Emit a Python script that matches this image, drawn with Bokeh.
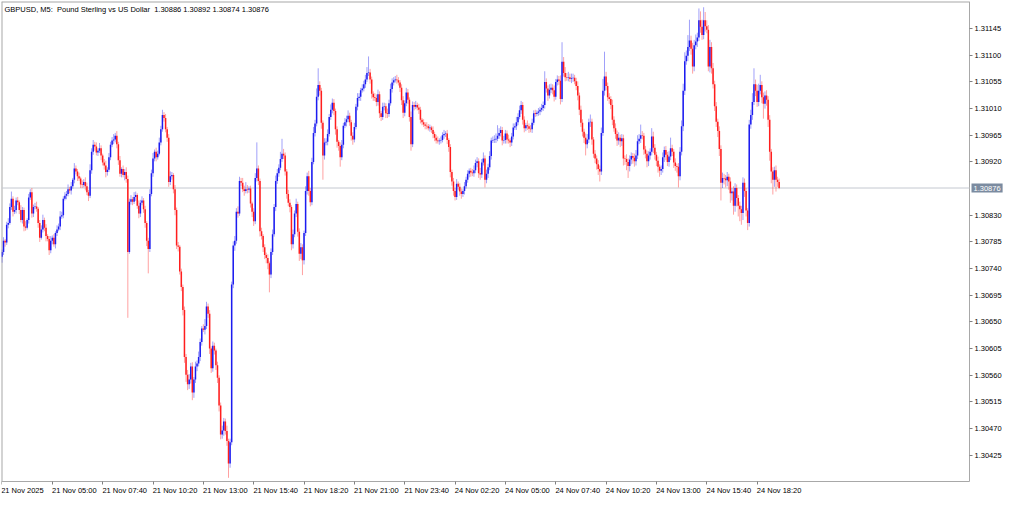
import numpy as np
from bokeh.plotting import figure
from bokeh.models import Range1d, FixedTicker, PrintfTickFormatter, Label
from bokeh.embed import file_html
from bokeh.resources import INLINE

# ---------------- data ----------------
chart_title = "GBPUSD, M5:\u00a0 Pound Sterling vs US Dollar\u00a0 1.30886 1.30892 1.30874 1.30876"
last_price = 1.30876
last_price_text = "1.30876"

# prices are given in points (0.00001) above 1.30000
price_base = 1.30000
point = 0.00001
first_open_points = 760

close_points = [
    768, 787, 784, 814, 817, 844, 858, 836, 839, 855,
    852, 839, 822, 839, 811, 809, 822, 860, 869, 833,
    844, 845, 841, 817, 792, 806, 822, 809, 795, 790,
    771, 787, 792, 781, 800, 806, 811, 828, 830, 858,
    863, 866, 874, 872, 879, 890, 909, 904, 896, 892,
    882, 881, 886, 879, 869, 863, 906, 937, 949, 946,
    936, 939, 943, 931, 919, 914, 903, 907, 928, 949,
    956, 958, 964, 950, 923, 900, 908, 898, 903, 891,
    768, 853, 857, 853, 861, 864, 846, 833, 851, 855,
    840, 817, 787, 773, 866, 901, 926, 937, 928, 934,
    953, 975, 999, 994, 975, 961, 886, 896, 898, 874,
    839, 779, 777, 735, 709, 670, 591, 561, 545, 553,
    575, 531, 553, 575, 580, 591, 616, 639, 637, 643,
    676, 664, 605, 572, 610, 602, 577, 556, 509, 460,
    467, 482, 466, 449, 411, 447, 713, 779, 787, 836,
    833, 888, 885, 874, 871, 874, 873, 875, 850, 836,
    820, 893, 909, 888, 803, 795, 776, 763, 758, 749,
    730, 768, 798, 844, 888, 901, 910, 925, 934, 931,
    904, 866, 851, 844, 781, 798, 833, 849, 802, 765,
    776, 754, 800, 871, 896, 871, 852, 920, 969, 985,
    1030, 1050, 1040, 986, 931, 953, 954, 967, 996, 1008,
    1020, 1006, 975, 954, 947, 928, 949, 981, 987, 992,
    998, 987, 964, 958, 979, 1013, 1028, 1030, 1041, 1044,
    1051, 1059, 1070, 1071, 1059, 1035, 1029, 1028, 1021, 1034,
    1002, 996, 1013, 1014, 1002, 1001, 1019, 1043, 1054, 1058,
    1059, 1058, 1054, 1045, 1024, 1003, 1019, 1037, 1025, 996,
    950, 1016, 1013, 1016, 1012, 1008, 991, 987, 983, 981,
    980, 977, 978, 974, 967, 961, 956, 955, 956, 957,
    965, 967, 968, 957, 945, 903, 887, 871, 861, 883,
    878, 870, 866, 871, 879, 890, 900, 905, 902, 901,
    906, 918, 921, 901, 899, 919, 926, 890, 900, 911,
    930, 956, 957, 958, 959, 964, 969, 974, 956, 957,
    968, 958, 956, 953, 963, 978, 980, 987, 996, 1007,
    1016, 991, 977, 982, 980, 976, 975, 986, 1002, 1001,
    1003, 1005, 1008, 1011, 1016, 1055, 1044, 1032, 1042, 1045,
    1041, 1030, 1055, 1059, 1057, 1026, 1089, 1070, 1063, 1062,
    1063, 1060, 1061, 1062, 1056, 1048, 1032, 1008, 986, 971,
    961, 950, 958, 987, 988, 958, 934, 926, 916, 908,
    904, 969, 1040, 1064, 1048, 1029, 1026, 1016, 991, 977,
    967, 956, 961, 955, 960, 926, 925, 920, 913, 924,
    930, 927, 921, 931, 955, 959, 965, 964, 941, 934,
    921, 931, 937, 963, 944, 932, 922, 912, 905, 908,
    928, 940, 932, 920, 929, 943, 937, 919, 913, 912,
    896, 937, 980, 1040, 1090, 1099, 1114, 1125, 1111, 1081,
    1117, 1123, 1130, 1159, 1148, 1134, 1159, 1149, 1143, 1081,
    1114, 1078, 1051, 1014, 988, 972, 942, 885, 893, 892,
    889, 895, 887, 867, 870, 846, 876, 859, 846, 840,
    834, 885, 871, 838, 817, 983, 999, 1021, 1051, 1040,
    1021, 1040, 1050, 1029, 1018, 1032, 1025, 991, 937, 904,
    890, 906, 890, 886, 876,
]

upper_wick_points = [
    4, 6, 3, 5, 8, 6, 12, 4, 7, 5,
    6, 3, 8, 5, 4, 9, 3, 6, 5, 7,
    4, 6, 8, 3, 5, 7, 9, 4, 6, 3,
    5, 8, 4, 6, 3, 7, 5, 9, 6, 4,
    6, 5, 8, 4, 7, 3, 9, 5, 4, 6,
    3, 7, 5, 8, 6, 4, 10, 6, 8, 5,
    7, 4, 9, 5, 3, 6, 8, 4, 7, 5,
    6, 9, 5, 8, 4, 7, 3, 6, 5, 8,
    6, 5, 7, 4, 8, 6, 3, 9, 5, 7,
    4, 6, 3, 5, 8, 6, 9, 4, 7, 5,
    8, 6, 9, 5, 7, 4, 6, 8, 5, 3,
    7, 4, 6, 3, 5, 4, 6, 5, 8, 9,
    6, 7, 4, 8, 5, 9, 6, 4, 7, 12,
    8, 5, 6, 4, 7, 5, 3, 6, 4, 5,
    8, 6, 5, 9, 4, 6, 5, 7, 8, 6,
    9, 7, 5, 8, 6, 12, 7, 4, 5, 3,
    6, 8, 44, 5, 4, 6, 3, 5, 4, 6,
    3, 6, 8, 5, 9, 7, 6, 12, 25, 8,
    5, 4, 7, 6, 3, 8, 5, 9, 4, 6,
    7, 5, 4, 8, 6, 9, 5, 7, 10, 6,
    14, 28, 6, 5, 4, 7, 6, 8, 5, 9,
    7, 6, 4, 5, 3, 6, 8, 5, 7, 6,
    9, 5, 4, 6, 7, 5, 8, 6, 4, 7,
    6, 8, 10, 27, 6, 5, 4, 7, 6, 8,
    5, 4, 7, 6, 5, 8, 6, 9, 7, 5,
    6, 8, 5, 4, 6, 7, 5, 8, 6, 4,
    9, 6, 5, 7, 4, 6, 5, 3, 5, 4,
    6, 4, 5, 3, 6, 4, 5, 7, 4, 6,
    5, 7, 4, 6, 3, 5, 4, 6, 5, 8,
    4, 6, 5, 3, 7, 5, 6, 4, 5, 6,
    8, 6, 7, 5, 9, 6, 10, 5, 7, 6,
    8, 5, 6, 7, 9, 18, 8, 6, 5, 7,
    6, 5, 8, 4, 6, 7, 5, 9, 6, 8,
    7, 5, 6, 4, 8, 5, 6, 7, 5, 6,
    4, 6, 5, 7, 6, 18, 6, 5, 9, 7,
    6, 8, 5, 7, 6, 9, 33, 8, 10, 7,
    9, 6, 8, 7, 5, 6, 8, 5, 7, 6,
    5, 7, 9, 6, 12, 5, 4, 6, 5, 7,
    6, 9, 20, 42, 8, 6, 7, 5, 9, 6,
    8, 6, 9, 5, 7, 6, 5, 8, 6, 7,
    6, 5, 7, 9, 10, 8, 18, 7, 5, 6,
    5, 7, 6, 14, 8, 6, 5, 7, 4, 6,
    8, 6, 7, 5, 9, 18, 6, 5, 7, 4,
    6, 8, 10, 12, 15, 9, 20, 35, 8, 10,
    9, 12, 8, 20, 15, 12, 22, 14, 10, 8,
    12, 8, 9, 6, 7, 5, 8, 6, 9, 7,
    6, 8, 5, 7, 6, 9, 8, 6, 5, 7,
    6, 9, 7, 5, 4, 8, 9, 15, 27, 8,
    10, 12, 17, 6, 8, 7, 9, 6, 8, 5,
    7, 6, 8, 5, 6,
]

lower_wick_points = [
    10, 5, 7, 4, 6, 3, 5, 8, 4, 6,
    5, 7, 4, 6, 8, 5, 3, 6, 4, 7,
    6, 4, 5, 8, 7, 3, 5, 6, 9, 4,
    8, 5, 6, 4, 7, 5, 3, 6, 4, 5,
    3, 6, 4, 5, 7, 4, 6, 5, 8, 4,
    6, 5, 4, 7, 5, 9, 4, 6, 5, 7,
    5, 6, 4, 8, 5, 7, 9, 6, 4, 5,
    4, 6, 5, 7, 8, 5, 6, 4, 9, 6,
    111, 3, 5, 6, 4, 7, 5, 8, 6, 4,
    6, 8, 9, 41, 5, 4, 6, 5, 7, 4,
    3, 5, 4, 6, 5, 7, 8, 5, 6, 7,
    9, 6, 8, 5, 7, 9, 10, 12, 10, 8,
    7, 13, 9, 6, 8, 5, 7, 6, 4, 8,
    5, 7, 9, 8, 6, 7, 8, 9, 10, 8,
    7, 9, 6, 8, 24, 7, 5, 6, 9, 5,
    7, 4, 6, 5, 8, 4, 6, 5, 7, 9,
    8, 5, 6, 7, 9, 6, 8, 7, 9, 10,
    30, 6, 5, 4, 7, 5, 6, 4, 5, 6,
    7, 8, 6, 9, 10, 7, 5, 6, 8, 12,
    9, 25, 7, 5, 6, 8, 7, 5, 4, 6,
    5, 6, 8, 10, 41, 7, 5, 6, 4, 5,
    6, 7, 9, 10, 8, 16, 5, 6, 4, 7,
    5, 6, 8, 9, 5, 4, 6, 5, 7, 4,
    5, 6, 4, 5, 7, 8, 6, 5, 7, 6,
    8, 7, 5, 6, 8, 7, 5, 4, 6, 5,
    4, 6, 5, 7, 8, 9, 6, 5, 7, 8,
    11, 5, 6, 4, 5, 7, 6, 5, 4, 6,
    5, 4, 6, 5, 7, 6, 5, 4, 6, 5,
    4, 6, 5, 7, 8, 9, 7, 8, 6, 5,
    6, 7, 8, 5, 6, 4, 5, 6, 7, 5,
    6, 5, 7, 8, 9, 6, 5, 13, 6, 7,
    5, 6, 4, 5, 6, 4, 5, 6, 8, 5,
    6, 7, 5, 8, 6, 5, 4, 6, 5, 4,
    6, 8, 7, 5, 6, 7, 5, 6, 4, 5,
    4, 5, 6, 4, 5, 6, 7, 9, 5, 6,
    7, 8, 5, 6, 7, 9, 5, 6, 7, 5,
    6, 5, 7, 6, 5, 7, 8, 9, 7, 8,
    9, 19, 7, 6, 8, 9, 7, 8, 9, 10,
    17, 6, 5, 8, 7, 6, 8, 7, 9, 6,
    8, 9, 7, 10, 8, 12, 10, 14, 20, 9,
    8, 10, 9, 7, 6, 5, 7, 6, 9, 8,
    10, 8, 7, 6, 9, 8, 9, 10, 10, 7,
    6, 8, 9, 7, 8, 6, 7, 9, 8, 10,
    19, 7, 6, 8, 7, 6, 9, 7, 10, 12,
    8, 7, 9, 6, 10, 8, 7, 9, 6, 8,
    10, 9, 7, 8, 9, 10, 12, 30, 9, 10,
    12, 10, 14, 16, 12, 15, 10, 14, 18, 20,
    20, 12, 10, 10, 12, 6, 7, 8, 5, 9,
    8, 7, 6, 10, 25, 8, 10, 12, 15, 20,
    25, 12, 20, 8, 2,
]

price_ticks = [1.30425, 1.30470, 1.30515, 1.30560, 1.30605, 1.30650, 1.30695,
               1.30740, 1.30785, 1.30830, 1.30875, 1.30920, 1.30965, 1.31010,
               1.31055, 1.31100, 1.31145]
# bar index of each time label (5-minute bars, first bar 21 Nov 02:20)
time_tick_bars = [0, 32, 64, 96, 128, 160, 192, 224, 256, 288, 320, 352, 384, 416, 448, 480]
time_tick_labels = ["21 Nov 2025", "21 Nov 05:00", "21 Nov 07:40", "21 Nov 10:20",
                    "21 Nov 13:00", "21 Nov 15:40", "21 Nov 18:20", "21 Nov 21:00",
                    "21 Nov 23:40", "24 Nov 02:20", "24 Nov 05:00", "24 Nov 07:40",
                    "24 Nov 10:20", "24 Nov 13:00", "24 Nov 15:40", "24 Nov 18:20"]

# ---------------- build OHLC ----------------
n = min(len(close_points), len(upper_wick_points), len(lower_wick_points))
closes = price_base + np.array(close_points[:n]) * point
opens = np.concatenate([[price_base + first_open_points * point], closes[:-1]])
highs = np.maximum(opens, closes) + np.array(upper_wick_points[:n]) * point
lows = np.minimum(opens, closes) - np.array(lower_wick_points[:n]) * point
idx = np.arange(n)

BULL = "#1c1cf0"
BEAR = "#ff1e1e"
GRID = "#a8a8a8"
colors = [BULL if c >= o else BEAR for o, c in zip(opens, closes)]

FONT = "Liberation Sans"
FS = "7.5px"

# the 1.30875 tick is hidden by the current-price box, as in the reference
shown_ticks = [t for t in price_ticks if abs(t - last_price) > 0.0002]

# layout: both axes are pinned inside the frame so their label areas are sized exactly
W, H = 1008, 495
X0, XAXIS = -0.3, 615.0
AXIS_PX = 968            # left frame edge -> price axis, pixels
X1 = X0 + (XAXIS - X0) * (W - 1) / AXIS_PX
Y0, Y1 = 1.303808, 1.311907   # chart bottom / top
CHART_PX = 480                # chart height, pixels
YB = Y0 - (Y1 - Y0) * ((H - 1) - CHART_PX) / CHART_PX   # room for time labels

p = figure(width=W, height=H, output_backend="svg", toolbar_location=None,
           x_range=Range1d(X0, X1), y_range=Range1d(YB, Y1),
           y_axis_location="right", min_border_left=1, min_border_top=1,
           min_border_right=0, min_border_bottom=0,
           background_fill_color="white", border_fill_color="white")
p.grid.visible = False
p.outline_line_color = None

# chart border: left, top, bottom, and the price-axis line
p.segment(x0=[X0, X0], y0=[Y0, Y1], x1=[X0, XAXIS], y1=[Y1, Y1],
          line_color=GRID, line_width=2)
p.segment(x0=[X0, XAXIS], y0=[Y0, Y0], x1=[XAXIS, XAXIS], y1=[Y0, Y1],
          line_color=GRID, line_width=1)

# current price line
p.segment(x0=[X0], y0=[last_price], x1=[XAXIS], y1=[last_price],
          line_color="#c4c8d0", line_width=1)

# candles
p.segment(x0=idx, y0=lows, x1=idx, y1=highs, line_color=colors, line_alpha=0.42, line_width=1)
p.vbar(x=idx, top=np.maximum(opens, closes), bottom=np.minimum(opens, closes), width=0.95,
       fill_color=colors, line_color=None)

# y axis (right, pinned at the axis position)
ya = p.yaxis[0]
ya.fixed_location = XAXIS
ya.ticker = FixedTicker(ticks=shown_ticks)
ya.formatter = PrintfTickFormatter(format="%.5f")
ya.axis_line_color = None
ya.major_tick_line_color = "#808080"
ya.major_tick_out = 3
ya.major_tick_in = 0
ya.minor_tick_line_color = None
ya.minor_tick_out = 0
ya.major_label_text_font = FONT
ya.major_label_text_font_size = FS
ya.major_label_text_color = "#000000"
ya.major_label_standoff = 2

# x axis (pinned at the chart bottom): labels start at their tick, as in the reference
label_shift = 14
xa = p.xaxis[0]
xa.fixed_location = Y0
centers = [b + (label_shift - 1 if i == 0 else label_shift) for i, b in enumerate(time_tick_bars)]
xa.ticker = FixedTicker(ticks=centers, minor_ticks=time_tick_bars)
xa.major_label_overrides = {c: lab for c, lab in zip(centers, time_tick_labels)}
xa.axis_line_color = None
xa.major_tick_line_color = None
xa.major_tick_out = 3
xa.major_tick_in = 0
xa.minor_tick_line_color = "#808080"
xa.minor_tick_out = 3
xa.minor_tick_in = 0
xa.major_label_text_font = FONT
xa.major_label_text_font_size = FS
xa.major_label_text_color = "#000000"
xa.major_label_standoff = 1

# title text in the top-left corner
p.add_layout(Label(x=X0, y=Y1, x_offset=3, y_offset=-3, text=chart_title,
                   text_font=FONT, text_font_size=FS, text_color="#000000",
                   text_baseline="top", text_align="left"))

# price box on the axis
p.add_layout(Label(x=XAXIS, y=last_price, x_offset=2, y_offset=0, text=last_price_text,
                   text_font=FONT, text_font_size=FS, text_color="#ffffff",
                   text_baseline="middle", text_align="left",
                   background_fill_color="#7b8ba0", padding=2))

open("out.html", "w").write(file_html(p, INLINE))
